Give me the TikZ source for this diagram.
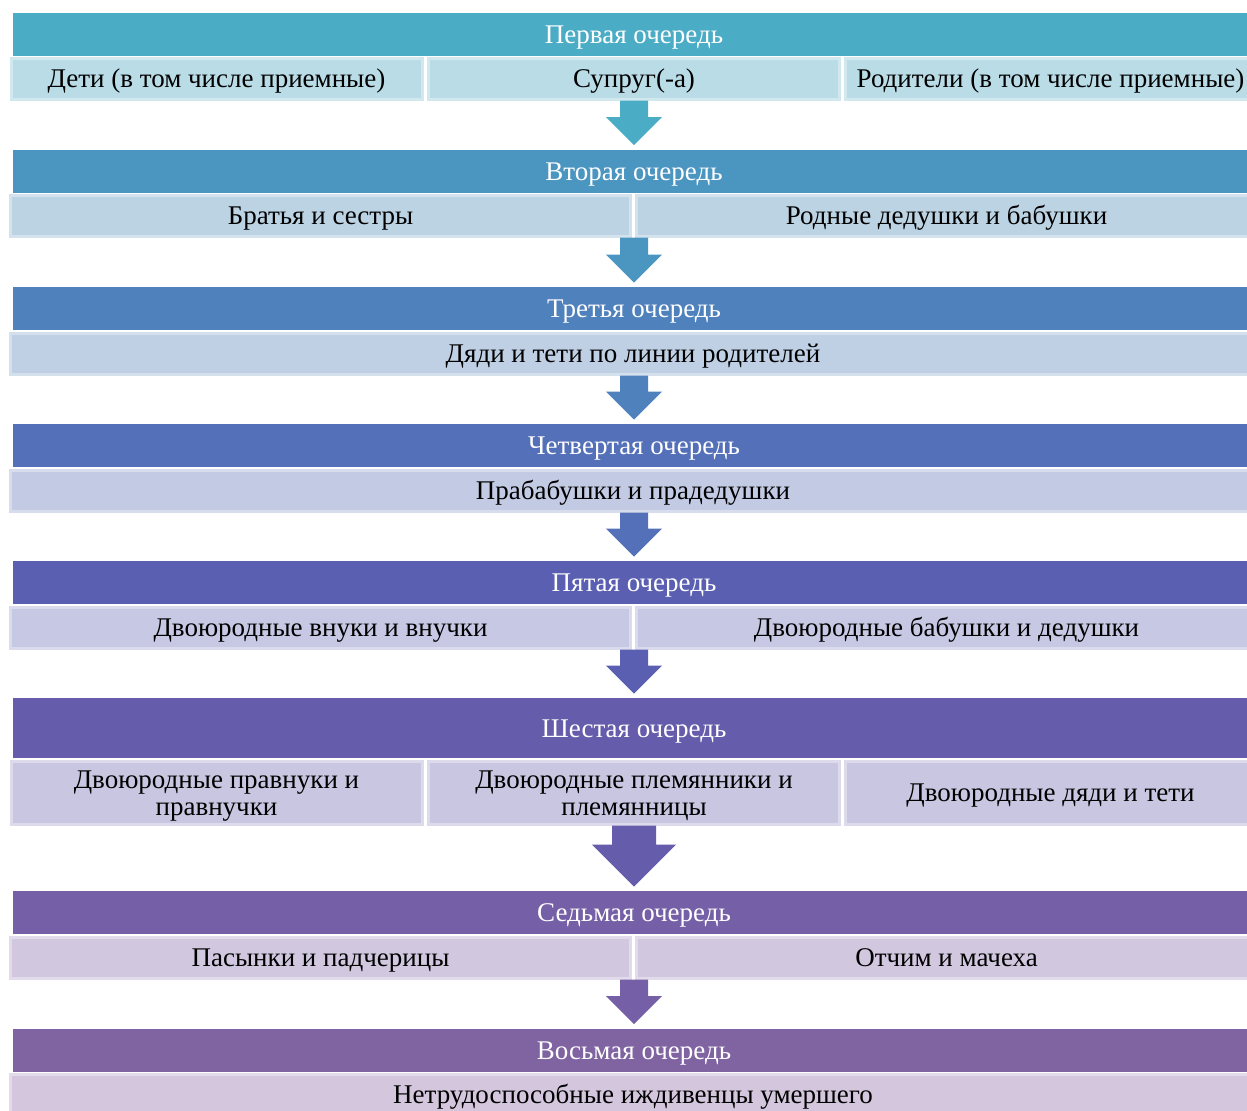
\documentclass[tikz,border=0pt]{standalone}
\usepackage{fontspec}
\setmainfont{Liberation Serif}
\usetikzlibrary{calc}

\definecolor{hOne}{HTML}{4BACC6}
\definecolor{hTwo}{HTML}{4B96C1}
\definecolor{hThree}{HTML}{4F81BD}
\definecolor{hFour}{HTML}{5470B9}
\definecolor{hFive}{HTML}{5A5FB1}
\definecolor{hSix}{HTML}{655CAB}
\definecolor{hSeven}{HTML}{7560A7}
\definecolor{hEight}{HTML}{8064A2}
\definecolor{cOne}{HTML}{B9DCE7}
\definecolor{cTwo}{HTML}{BCD3E4}
\definecolor{cThree}{HTML}{BFCFE4}
\definecolor{cFour}{HTML}{C3CBE4}
\definecolor{cFive}{HTML}{C6C8E4}
\definecolor{cSix}{HTML}{C9C6E1}
\definecolor{cSeven}{HTML}{D1C8E0}
\definecolor{cEight}{HTML}{D4C7DD}

% block arrow from the bottom of a row down to the next header
\newcommand{\queuearrow}[5]{%
  \fill[#5] ($(#1.south -| #2.north)+(-#3,0)$) -- ($(#1.south -| #2.north)+(#3,0)$)
    -- ($(#2.north)+(#3,-4-#4)$) -- ($(#2.north)+(#4,-4-#4)$) -- ($(#2.north)+(0,-4)$)
    -- ($(#2.north)+(-#4,-4-#4)$) -- ($(#2.north)+(-#3,-4-#4)$) -- cycle;}

\begin{document}
\begin{tikzpicture}[x=0.5pt, y=-0.5pt, font=\fontsize{13.5}{13.5}\selectfont,
    head/.style={fill=#1, text=white, inner sep=0pt, minimum width=621pt, minimum height=21.5pt,
      text height=9pt, text depth=0pt},
    cell/.style={fill=#1, draw=#1!65!white, line width=1.5pt, inner sep=0pt, align=center,
      minimum height=20.5pt, text height=9pt, text depth=0pt},
    third/.style={minimum width=205.5pt},
    half/.style={minimum width=310pt},
    full/.style={minimum width=623pt},
    tall/.style={minimum height=31.5pt, text height=22.5pt, text depth=0pt}]
    \useasboundingbox (0,0) rectangle (1247,1110);
    \clip (0,0) rectangle (1247,1110);

    % first
    \node[head=hOne] (h1) at (634,34) {Первая очередь};
    \node[cell=cOne, third] (r1a) at (216.5,78.5) {Дети (в том числе приемные)};
    \node[cell=cOne, third] (r1b) at (634,78.5) {Супруг(-а)};
    \node[cell=cOne, third] (r1c) at (1050.5,78.5) {Родители (в том числе приемные)};

    % second
    \node[head=hTwo] (h2) at (634,171) {Вторая очередь};
    \node[cell=cTwo, half] (r2a) at (320.5,215.5) {Братья и сестры};
    \node[cell=cTwo, half] (r2b) at (946.5,215.5) {Родные дедушки и бабушки};

    % third
    \node[head=hThree] (h3) at (634,308.5) {Третья очередь};
    \node[cell=cThree, full] (r3a) at (633,353.5) {Дяди и тети по линии родителей};

    % fourth
    \node[head=hFour] (h4) at (634,445.5) {Четвертая очередь};
    \node[cell=cFour, full] (r4a) at (633,490.5) {Прабабушки и прадедушки};

    % fifth
    \node[head=hFive] (h5) at (634,582.5) {Пятая очередь};
    \node[cell=cFive, half] (r5a) at (320.5,627.5) {Двоюродные внуки и внучки};
    \node[cell=cFive, half] (r5b) at (946.5,627.5) {Двоюродные бабушки и дедушки};

    % sixth
    \node[head=hSix, minimum height=30pt] (h6) at (634,728) {Шестая очередь};
    \node[cell=cSix, third, tall] (r6a) at (216.5,792.5) {Двоюродные правнуки и\\правнучки};
    \node[cell=cSix, third, tall] (r6b) at (634,792.5) {Двоюродные племянники и\\племянницы};
    \node[cell=cSix, third, minimum height=31.5pt] (r6c) at (1050.5,792.5) {Двоюродные дяди и тети};

    % seventh
    \node[head=hSeven] (h7) at (634,912.5) {Седьмая очередь};
    \node[cell=cSeven, half] (r7a) at (320.5,957.5) {Пасынки и падчерицы};
    \node[cell=cSeven, half] (r7b) at (946.5,957.5) {Отчим и мачеха};

    % eighth
    \node[head=hEight] (h8) at (634,1050) {Восьмая очередь};
    \node[cell=cEight, full] (r8a) at (633,1094.5) {Нетрудоспособные иждивенцы умершего};

    \queuearrow{r1a}{h2}{14}{28}{hOne}
    \queuearrow{r2a}{h3}{14}{28}{hTwo}
    \queuearrow{r3a}{h4}{14}{28}{hThree}
    \queuearrow{r4a}{h5}{14}{28}{hFour}
    \queuearrow{r5a}{h6}{14}{28}{hFive}
    \queuearrow{r6a}{h7}{22}{42}{hSix}
    \queuearrow{r7a}{h8}{14}{28}{hSeven}
\end{tikzpicture}
\end{document}
